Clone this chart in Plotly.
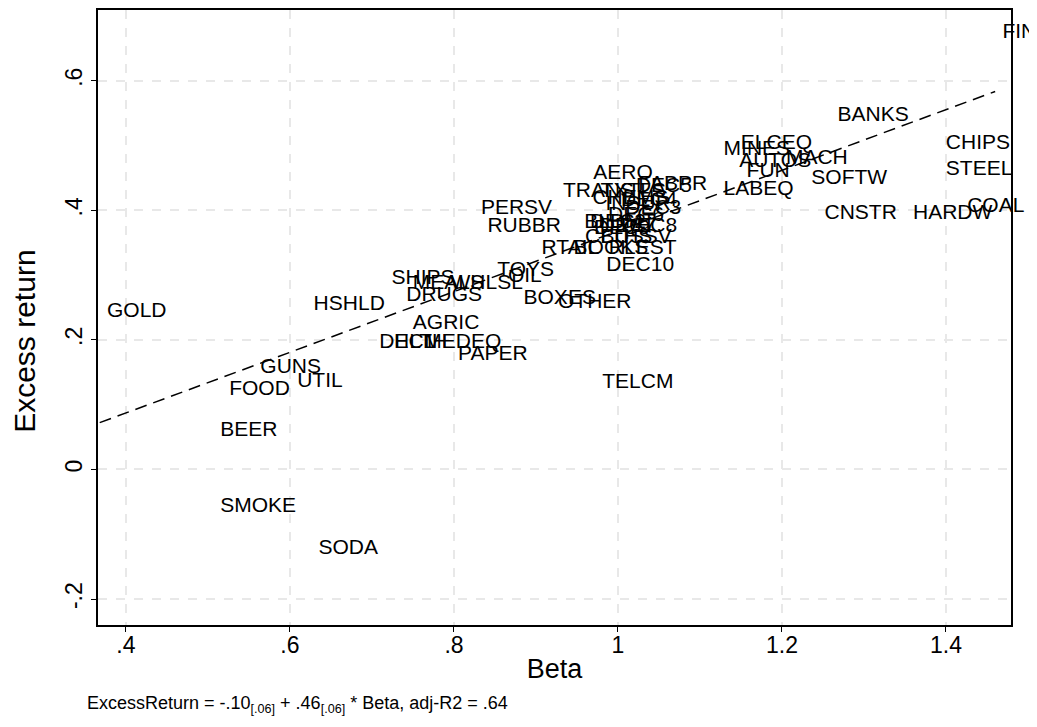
import numpy as np
import plotly.graph_objects as go

# industry / decile portfolios: beta and average excess return
labels = [
    "FIN", "BANKS", "CHIPS", "STEEL", "COAL", "HARDW", "CNSTR", "SOFTW", "LABEQ",
    "MINES", "ELCEQ", "AUTOS", "MACH", "FUN",
    "AERO", "TRANS", "FABPR", "DEC5", "TXTLS", "CHEMS", "INSUR", "DEC4", "DEC3",
    "DEC6", "DEC2", "DEC7", "DEC8", "DEC9", "BLDMT", "CLTHS", "BUSSV", "BOOKS",
    "RLEST", "RTAIL", "DEC10", "TELCM",
    "PERSV", "RUBBR", "TOYS", "OIL", "BOXES", "OTHER",
    "SHIPS", "MEALS", "WHLSL", "DRUGS", "HSHLD", "AGRIC", "DEC1", "HLTH", "MEDEQ",
    "PAPER", "GOLD", "GUNS", "FOOD", "UTIL", "BEER", "SMOKE", "SODA",
]
beta = [
    1.460, 1.259, 1.391, 1.391, 1.417, 1.351, 1.243, 1.227, 1.120,
    1.120, 1.141, 1.139, 1.196, 1.148,
    0.961, 0.924, 1.016, 1.013, 0.970, 0.960, 0.976, 0.995, 1.000,
    0.979, 0.957, 0.969, 0.995, 0.962, 0.950, 0.951, 0.970, 0.937,
    0.980, 0.898, 0.977, 0.972,
    0.824, 0.832, 0.844, 0.857, 0.876, 0.918,
    0.715, 0.741, 0.787, 0.733, 0.620, 0.741, 0.700, 0.718, 0.755,
    0.796, 0.368, 0.555, 0.517, 0.600, 0.506, 0.506, 0.626,
]
excess_return = [
    0.674, 0.546, 0.503, 0.463, 0.405, 0.394, 0.394, 0.448, 0.432,
    0.494, 0.503, 0.475, 0.480, 0.460,
    0.457, 0.429, 0.440, 0.437, 0.429, 0.417, 0.408, 0.414, 0.403,
    0.391, 0.380, 0.375, 0.375, 0.371, 0.380, 0.358, 0.357, 0.340,
    0.340, 0.340, 0.314, 0.134,
    0.403, 0.374, 0.306, 0.298, 0.263, 0.257,
    0.295, 0.286, 0.286, 0.268, 0.254, 0.225, 0.195, 0.195, 0.195,
    0.177, 0.243, 0.157, 0.123, 0.135, 0.060, -0.057, -0.123,
]

# fitted line ExcessReturn = a + b * Beta
intercept = -0.100
slope = 0.468

x_ticks = [0.4, 0.6, 0.8, 1.0, 1.2, 1.4]
x_ticktext = [".4", ".6", ".8", "1", "1.2", "1.4"]
y_ticks = [-0.2, 0, 0.2, 0.4, 0.6]
y_ticktext = ["-.2", "0", ".2", ".4", ".6"]

font = "Liberation Sans, Arial, Helvetica, sans-serif"

fig = go.Figure()

x_fit = np.array([min(beta), max(beta)])
fig.add_trace(go.Scatter(
    x=x_fit, y=intercept + slope * x_fit, mode="lines",
    line=dict(color="black", width=1.5, dash="12px,7px"),
    hoverinfo="skip", showlegend=False,
))

fig.add_trace(go.Scatter(
    x=beta, y=excess_return, mode="markers+text", text=labels,
    textposition="middle right",
    textfont=dict(family=font, size=21, color="black"),
    marker=dict(size=10, opacity=0),
    cliponaxis=False,
    showlegend=False,
))

axis_common = dict(
    showline=True, linecolor="black", linewidth=1.5, mirror=True,
    ticks="outside", ticklen=5, tickcolor="black", tickwidth=1.2,
    showgrid=True, gridcolor="#e8e8e8", gridwidth=1.5, griddash="dash",
    zeroline=False, tickfont=dict(family=font, size=23, color="black"),
)

fig.update_xaxes(
    range=[0.3659, 1.4793], tickvals=x_ticks, ticktext=x_ticktext,
    ticklabelstandoff=-6,
    title=dict(text="Beta", font=dict(family=font, size=27, color="black"), standoff=2),
    **axis_common,
)
fig.update_yaxes(
    range=[-0.24, 0.709], tickvals=y_ticks, ticktext=y_ticktext, tickangle=-90,
    **axis_common,
)

# y title placed by hand, it sits a little below the middle of the plot
fig.add_annotation(
    text="Excess return", textangle=-90,
    xref="paper", yref="paper", x=-0.080, y=0.462, xanchor="center", yanchor="middle",
    showarrow=False, font=dict(family=font, size=30, color="black"),
)

fig.add_annotation(
    text="ExcessReturn = -.10<sub>[.06]</sub> + .46<sub>[.06]</sub> * Beta, adj-R2 = .64",
    xref="paper", yref="paper", x=-0.0143, y=-0.107, xanchor="left", yanchor="top",
    showarrow=False, font=dict(family=font, size=18, color="black"),
)

# the page adds an 8px body margin, so the figure is sized to fit inside the window
fig.update_layout(
    width=1029, height=719,
    margin=dict(l=90, r=26, t=0, b=102),
    plot_bgcolor="white", paper_bgcolor="white",
    font=dict(family=font, color="black"),
)

fig.write_html("out.html")
